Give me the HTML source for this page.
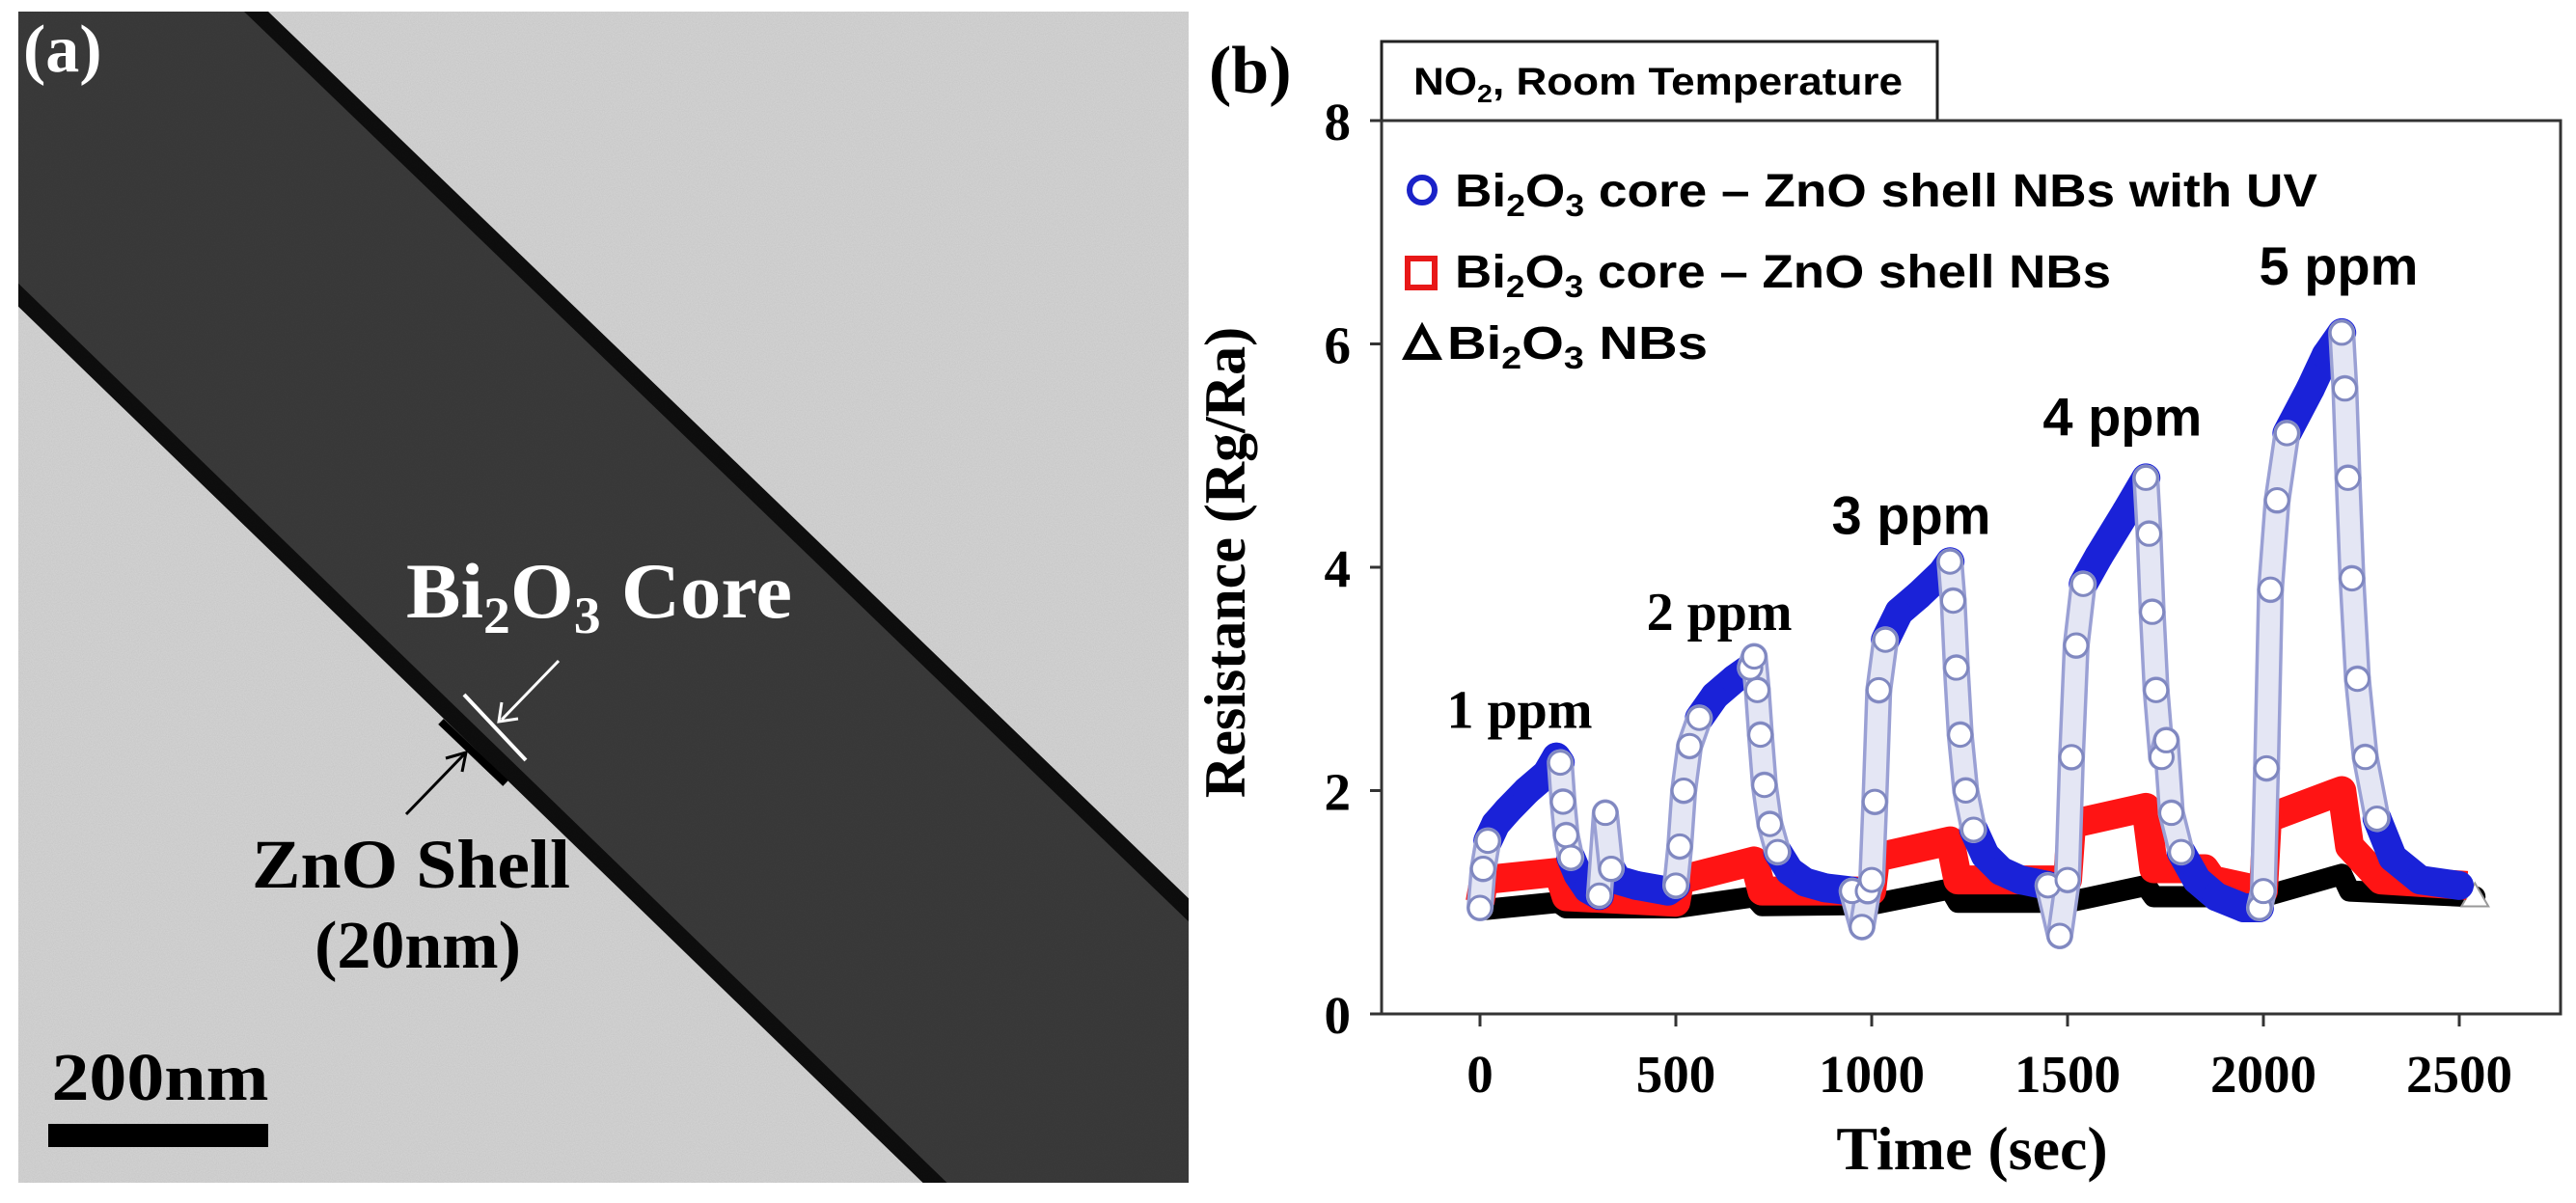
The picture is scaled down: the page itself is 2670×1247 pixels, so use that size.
<!DOCTYPE html>
<html><head><meta charset="utf-8"><style>
html,body{margin:0;padding:0;background:#fff;}
svg{display:block;}
.serif{font-family:"Liberation Serif",serif;font-weight:bold;}
.sans{font-family:"Liberation Sans",sans-serif;font-weight:bold;}
</style></head><body>
<svg id="fig" width="2670" height="1247" viewBox="0 0 2670 1247" xmlns="http://www.w3.org/2000/svg">
<defs>
<filter id="grain" x="0" y="0" width="100%" height="100%">
<feTurbulence type="fractalNoise" baseFrequency="0.9" numOctaves="2" seed="3" result="n"/>
<feColorMatrix type="matrix" values="0 0 0 0 0  0 0 0 0 0  0 0 0 0 0  0 0 0 0.08 0" in="n" result="a"/>
<feComposite in="a" in2="SourceGraphic" operator="in"/>
</filter>
<clipPath id="temclip"><rect x="19" y="12" width="1213" height="1214"/></clipPath>
</defs>

<g clip-path="url(#temclip)">
<rect x="19" y="12" width="1213" height="1214" fill="#d6d6d6"/>
<polygon points="-20,12 278,12 1240,939 1240,1240 971,1240 -20,280" fill="#0e0e0e"/>
<polygon points="-20,12 253,12 1240,963 1240,1240 996,1240 -20,256" fill="#3b3b3b"/>
<rect x="19" y="12" width="1213" height="1214" fill="#000" filter="url(#grain)"/>
</g>
<text class="serif" x="24" y="74" font-size="70" fill="#fff">(a)</text>
<text class="serif" x="421" y="640" font-size="82" fill="#fff" textLength="400" lengthAdjust="spacingAndGlyphs">Bi<tspan font-size="54" dy="16">2</tspan><tspan dy="-16">O</tspan><tspan font-size="54" dy="16">3</tspan><tspan dy="-16"> Core</tspan></text>
<line x1="481" y1="720" x2="545" y2="788" stroke="#fff" stroke-width="4"/>
<line x1="579" y1="685" x2="520" y2="746" stroke="#fff" stroke-width="3"/>
<polyline points="520,728 517,748 537,745" fill="none" stroke="#fff" stroke-width="3"/>
<line x1="457" y1="748" x2="524" y2="812" stroke="#000" stroke-width="8"/>
<line x1="421" y1="844" x2="481" y2="782" stroke="#000" stroke-width="3"/>
<polyline points="462,786 483,780 479,800" fill="none" stroke="#000" stroke-width="3"/>
<text class="serif" x="426" y="920" font-size="72" text-anchor="middle" textLength="330" lengthAdjust="spacingAndGlyphs" fill="#000">ZnO Shell</text>
<text class="serif" x="433" y="1003" font-size="70" text-anchor="middle" fill="#000">(20nm)</text>
<text class="serif" x="166" y="1140" font-size="70" text-anchor="middle" textLength="225" lengthAdjust="spacingAndGlyphs" fill="#000">200nm</text>
<rect x="50" y="1165" width="228" height="24" fill="#000"/>

<text class="serif" x="1253" y="96" font-size="70" fill="#000">(b)</text>
<rect x="1432" y="43" width="576" height="82" fill="#fff" stroke="#222" stroke-width="3"/>
<text class="sans" x="1465" y="98" font-size="40" textLength="507" lengthAdjust="spacingAndGlyphs">NO<tspan font-size="26" dy="8">2</tspan><tspan dy="-8">, Room Temperature</tspan></text>
<rect x="1432" y="125" width="1222" height="926" fill="none" stroke="#333" stroke-width="3"/>
<g id="axes"></g>
<g id="series"></g>
<text class="serif" transform="translate(1290,583) rotate(-90)" font-size="60" text-anchor="middle">Resistance (Rg/Ra)</text>
<text class="serif" x="2044" y="1212" font-size="64" text-anchor="middle">Time (sec)</text>

<g>
<circle cx="1474" cy="197" r="13" fill="none" stroke="#1a22c8" stroke-width="6"/>
<text class="sans" x="1508" y="214" font-size="48" textLength="894" lengthAdjust="spacingAndGlyphs">Bi<tspan font-size="32" dy="10">2</tspan><tspan dy="-10">O</tspan><tspan font-size="32" dy="10">3</tspan><tspan dy="-10"> core – ZnO shell NBs with UV</tspan></text>
<rect x="1459" y="268" width="28" height="30" fill="none" stroke="#e81818" stroke-width="6"/>
<text class="sans" x="1508" y="298" font-size="48" textLength="680" lengthAdjust="spacingAndGlyphs">Bi<tspan font-size="32" dy="10">2</tspan><tspan dy="-10">O</tspan><tspan font-size="32" dy="10">3</tspan><tspan dy="-10"> core – ZnO shell NBs</tspan></text>
<polygon points="1474,340 1490,370 1458,370" fill="none" stroke="#000" stroke-width="6"/>
<text class="sans" x="1500" y="372" font-size="48" textLength="270" lengthAdjust="spacingAndGlyphs">Bi<tspan font-size="32" dy="10">2</tspan><tspan dy="-10">O</tspan><tspan font-size="32" dy="10">3</tspan><tspan dy="-10"> NBs</tspan></text>
</g>
<g id="peaklabels"></g>
</svg>
<script>
const xTicks = [0, 500, 1000, 1500, 2000, 2500];
const yTicks = [0, 2, 4, 6, 8];
const uvTime = [0,8,20,40,70,120,170,195,205,212,220,232,250,275,305,320,335,350,400,480,500,510,520,535,560,600,650,690,700,708,716,726,740,760,790,830,880,950,975,990,1000,1008,1018,1035,1070,1120,1180,1200,1208,1216,1226,1240,1260,1290,1330,1380,1450,1480,1500,1510,1522,1540,1580,1650,1700,1708,1716,1726,1740,1752,1765,1790,1830,1880,1950,1990,2000,2008,2018,2035,2060,2120,2160,2200,2208,2216,2226,2240,2260,2290,2330,2400,2500];
const uvValue = [0.95,1.3,1.55,1.7,1.82,2.0,2.15,2.3,2.25,1.9,1.6,1.4,1.25,1.12,1.06,1.8,1.3,1.2,1.15,1.1,1.15,1.5,2.0,2.4,2.65,2.85,3.0,3.1,3.2,2.9,2.5,2.05,1.7,1.45,1.28,1.18,1.13,1.1,0.78,1.1,1.2,1.9,2.9,3.35,3.6,3.75,3.95,4.05,3.7,3.1,2.5,2.0,1.65,1.42,1.28,1.2,1.15,0.7,1.2,2.3,3.3,3.85,4.1,4.5,4.8,4.3,3.6,2.9,2.3,2.45,1.8,1.45,1.2,1.05,0.95,0.95,1.1,2.2,3.8,4.6,5.2,5.6,5.9,6.1,5.6,4.8,3.9,3.0,2.3,1.75,1.4,1.2,1.15];
const csTime = [0,10,200,220,500,510,700,720,1000,1010,1200,1220,1500,1510,1700,1720,1850,1870,2000,2010,2200,2220,2300,2520];
const csValue = [1.0,1.2,1.27,1.05,1.0,1.2,1.37,1.1,1.1,1.4,1.55,1.2,1.2,1.7,1.85,1.3,1.3,1.2,1.1,1.75,2.0,1.5,1.2,1.15];
const biTime = [0,200,220,500,700,720,1000,1200,1220,1500,1700,1720,2000,2200,2220,2540];
const biValue = [0.93,1.0,0.95,0.95,1.05,0.97,0.98,1.12,1.0,1.0,1.15,1.05,1.05,1.25,1.1,1.05];
const peakLabels = ["1 ppm","2 ppm","3 ppm","4 ppm","5 ppm"];
const peakTime = [101,611,1101,1640,2192];
const peakValue = [2.56,3.44,4.3,5.18,6.53];

const NS = "http://www.w3.org/2000/svg";
const X = t => 1534 + t * 0.406;
const Y = v => 1051 - v * 115.75;
function mk(tag, attrs, parent){const e=document.createElementNS(NS,tag);for(const k in attrs)e.setAttribute(k,attrs[k]);parent.appendChild(e);return e;}
const axes = document.getElementById('axes');
xTicks.forEach(t=>{
  const l=mk('line',{x1:X(t),x2:X(t),y1:1051,y2:1064,stroke:'#333','stroke-width':3},axes);
  
  
  const tx=mk('text',{x:X(t),y:1132,'font-size':55,'text-anchor':'middle',class:'serif'},axes);
  tx.textContent=t;
  
  
});
yTicks.forEach(v=>{
  const l=mk('line',{x1:1420,x2:1432,y1:Y(v),y2:Y(v),stroke:'#333','stroke-width':3},axes);
  
  
  const tx=mk('text',{x:1400,y:Y(v)+20,'font-size':55,'text-anchor':'end',class:'serif'},axes);
  tx.textContent=v;
  
  
});
const ser=document.getElementById('series');
function pts(ts,vs){return ts.map((t,i)=>X(t)+','+Y(vs[i])).join(' ');}
const bi=mk('polyline',{points:pts(biTime,biValue),fill:'none',stroke:'#000','stroke-width':22,'stroke-linejoin':'round','stroke-linecap':'round'},ser);


const tri=mk('polygon',{points:`${X(2540)},${Y(1.05)-14} ${X(2540)+14},${Y(1.05)+10} ${X(2540)-14},${Y(1.05)+10}`,fill:'#fff',stroke:'#999','stroke-width':2},ser);


const cs=mk('polyline',{points:pts(csTime,csValue),fill:'none',stroke:'#ff1414','stroke-width':30,'stroke-linejoin':'round'},ser);


const steepIdx=[];
for(let i=0;i<uvTime.length-1;i++){
  const x1=X(uvTime[i]),y1=Y(uvValue[i]),x2=X(uvTime[i+1]),y2=Y(uvValue[i+1]);
  const steep=Math.abs(y2-y1)>2.5*Math.abs(x2-x1);
  if(steep){steepIdx.push(i);steepIdx.push(i+1);}
  const g=mk('g',{},ser);
  
  
  if(!steep){
    mk('line',{x1,y1,x2,y2,stroke:'#1a22d8','stroke-width':30,'stroke-linecap':'round'},g);
  }
}
for(let i=0;i<uvTime.length-1;i++){
  const x1=X(uvTime[i]),y1=Y(uvValue[i]),x2=X(uvTime[i+1]),y2=Y(uvValue[i+1]);
  if(Math.abs(y2-y1)>2.5*Math.abs(x2-x1)){
    const g=mk('g',{},ser);
    
    
    mk('line',{x1,y1,x2,y2,stroke:'#9aa0d4','stroke-width':28,'stroke-linecap':'round'},g);
    mk('line',{x1,y1,x2,y2,stroke:'#e4e6f4','stroke-width':21,'stroke-linecap':'round'},g);
  }
}
uvTime.forEach((t,i)=>{
  if(steepIdx.indexOf(i)<0) return;
  const c=mk('circle',{cx:X(t),cy:Y(uvValue[i]),r:12,fill:'#fff',stroke:'#8088c0','stroke-width':3},ser);
  
  
});
const pl=document.getElementById('peaklabels');
peakLabels.forEach((s,i)=>{
  const tx=mk('text',{x:X(peakTime[i]),y:Y(peakValue[i]),'font-size':56,'text-anchor':'middle',class:i<2?'serif':'sans'},pl);
  tx.textContent=s;
  
  
});
</script>
</body></html>
